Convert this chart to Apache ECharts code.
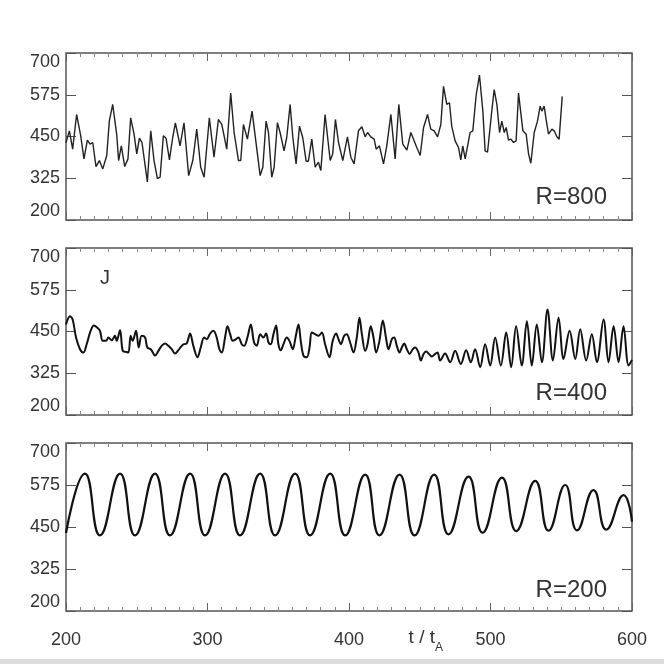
<!DOCTYPE html>
<html><head><meta charset="utf-8">
<script src="https://cdn.jsdelivr.net/npm/echarts@6/dist/echarts.min.js"></script>
<style>html,body{margin:0;padding:0;background:#fff}#c{width:664px;height:664px}</style>
</head><body><div id="c"></div>
<script>
// ---- data ----
const xTicks = [200, 300, 400, 500, 600];
const yTicks = [200, 325, 450, 575, 700];
const panelLabels = ['R=800', 'R=400', 'R=200'];

const tR800 = [200, 202.4, 204.7, 207.5, 210.4, 212.7, 215.1, 217, 218.9, 221.2, 223.6, 226, 228.8, 230.6, 233, 235.8, 237.2, 239.1, 241.5, 243.8, 245.7, 248.1, 250, 251.9, 253.7, 257.5, 259.9, 262.2, 264.6, 266.5, 268.8, 270.7, 273.1, 275.4, 277.3, 278.7, 280.6, 283.4, 286.7, 289.6, 292.4, 295.2, 297.6, 301.3, 304.6, 307.7, 310.1, 313.6, 316.4, 318.8, 321.9, 323.5, 325.4, 328.2, 331.5,
  337.2, 339.1, 341.4, 343.1, 345.4, 347.1, 349.4, 351.3, 354.1, 356, 358.4, 360.3, 362.6, 365, 367.3, 369.7, 371.3, 373.7, 376.1, 378.4, 380.1, 383.1, 386.7, 388.5, 390.4, 392.6, 395.6, 398.9, 401.3, 403.6, 406.7, 409.1, 411.4, 413.1, 415.4, 417.8, 419.2, 421.5, 424.4, 426.7, 429.6, 432.6, 435.2, 438, 440.9, 443.7, 445.6, 447.9, 450.3, 452.7, 455.5, 457.8, 460.2, 462.6, 464.9,
  466.8, 469.1, 471, 472.6, 475, 477.4, 479, 480.4, 482.1, 485.6, 487.5, 489.9, 492.2, 494.6, 496.2, 497.9, 500.9, 502.6, 504.5, 506.4, 508, 509.7, 511.1, 512.7, 514.4, 516.3, 518.1, 519.8, 521, 522.9, 525.2, 526.9, 528.5, 530.9, 533.2, 535.1, 536.3, 537.9, 539.3, 541, 543.4, 545, 546.9, 548.5, 550.7];
const vR800 = [432, 467, 412, 516, 452, 383, 439, 427, 432, 360, 378, 353, 393, 496, 546, 457, 378, 422, 360, 383, 506, 457, 398, 445, 432, 314, 467, 378, 324, 328, 452, 445, 380, 447, 491, 462, 422, 491, 333, 378, 472, 358, 328, 506, 388, 501, 486, 412, 580, 462, 378, 378, 486, 442, 526,
  333, 358, 496, 462, 328, 358, 491, 462, 407, 447, 546, 447, 368, 481, 447, 376, 376, 442, 358, 373, 348, 516, 378, 398, 501, 432, 378, 449, 388, 368, 467, 479, 449, 462, 449, 442, 412, 422, 368, 422, 516, 383, 546, 427, 409, 462, 442, 417, 393, 477, 516, 472, 467, 449, 486,
  600, 546, 551, 481, 437, 417, 380, 422, 383, 462, 467, 575, 634, 526, 407, 403, 526, 590, 546, 462, 496, 462, 477, 439, 442, 432, 437, 580, 580, 467, 457, 398, 370, 462, 496, 541, 526, 541, 501, 457, 472, 467, 449, 442, 570];

const tR400 = [200, 202.8, 204.7, 207.1, 209.9, 212.3, 214.6, 217.4, 219.8, 222.2, 224, 226, 228.3, 230, 232.3, 234.6, 235.8, 238.2, 240.1, 242.4, 244.1, 245.7, 247.1, 249.5, 251.4, 253.5, 255.9, 257.5, 259.9, 263, 265.3, 267.6, 270, 272.4, 274.7, 277.1, 279.4, 281.8, 283.4, 285.3, 287.7, 290, 292.9, 295.2, 297.6, 299.5, 301.8, 304.2, 306.5, 308.4, 310.1, 312.4, 314.1, 316, 317.8, 320.2, 321.9, 324.2, 325.9, 328.2, 330.6,
  332.9, 334.8, 337.2, 339.5, 341.4, 343.1, 344.7, 346.6, 348.5, 350.1, 351.8, 353.7, 356, 357.9, 360.3, 362.2, 364.3, 365.9, 367.8, 370.2, 372.1, 373.7, 376, 378.4, 380.8, 383.1, 386.2, 388.5, 390.9, 392.6, 394.2, 396.6, 398.4, 400.8, 403.2, 405.5, 407.4, 409.1, 411.4, 413.1, 415.4, 417.3, 419.2, 421.5, 423.9, 426.3, 427.9, 430.3, 431.9, 433.8, 435.7, 437.3, 439, 440.9, 442.8, 445.1, 446.8, 449.1, 450.8, 452.7, 454.5, 456.9, 458.5, 460.9, 462.6,
  464.4, 467.9, 471.5, 475, 479, 482.8, 486.1, 489.1, 492.7, 496.2, 499.8, 503.3, 507.3, 511.1, 514.6, 518.1, 522.1, 525.7, 529.2, 532.7, 536.3, 540.3, 544.1, 548.1, 551.6, 555.9, 559.9, 563.4, 567.6, 571.6, 575.2, 579.9, 583.4, 587, 590.5, 594, 597.6, 600];
const vR400 = [471, 496, 486, 432, 397, 387, 412, 452, 468, 461, 452, 422, 422, 432, 424, 437, 422, 454, 392, 389, 387, 437, 422, 452, 402, 437, 432, 402, 397, 378, 392, 407, 414, 407, 397, 384, 394, 407, 412, 414, 444, 407, 373, 402, 432, 427, 444, 452, 432, 397, 387, 432, 466, 442, 422, 427, 432, 412, 407, 432, 471,
  417, 407, 442, 432, 444, 417, 412, 442, 468, 412, 394, 412, 432, 422, 397, 432, 471, 422, 378, 373, 402, 447, 442, 437, 447, 412, 373, 422, 444, 427, 412, 437, 442, 417, 387, 432, 491, 442, 392, 412, 466, 432, 387, 422, 483, 427, 397, 427, 432, 407, 387, 402, 414, 397, 383, 397, 402, 387, 363, 383, 390, 381, 375, 383, 387,
  363, 384, 358, 392, 353, 394, 358, 397, 343, 412, 348, 432, 348, 447, 343, 466, 348, 481, 348, 471, 358, 516, 363, 491, 368, 452, 368, 457, 363, 442, 358, 486, 358, 466, 358, 466, 348, 365];

const tR200 = [200, 213.4, 224, 238.2, 248.8, 262.9, 273.5, 287.7, 298.3, 312.4, 323, 337.2, 347.8, 361.9, 372.5, 386.7, 397.3, 411.4, 421.5, 435.7, 446.3, 460.2, 470.3, 484.5, 494.4, 508.1, 518.2, 531.6, 541, 552.8, 561.1, 572.8, 581.8, 594.1, 600];
const vR200 = [432, 609, 425, 609, 425, 609, 425, 609, 425, 609, 425, 609, 425, 609, 425, 609, 425, 606, 425, 606, 425, 606, 428, 600, 433, 597, 438, 587, 439, 575, 440, 560, 442, 545, 466];

// ---- chart ----
const series = [[tR800, vR800], [tR400, vR400], [tR200, vR200]];
const tops = [53, 248, 443];
const heights = [167, 167, 168];
const font = 'Liberation Sans, Arial, sans-serif';

const grid = [], xAxis = [], yAxis = [], seriesList = [];
for (let i = 0; i < 3; i++) {
  grid.push({left: 66, right: 32, top: tops[i], height: heights[i], show: true,
    borderColor: '#555', borderWidth: 1.5, backgroundColor: '#fff'});
  const base = {type: 'value', gridIndex: i, min: xTicks[0], max: xTicks[xTicks.length - 1], interval: 100,
    axisLine: {show: false}, splitLine: {show: false},
    axisTick: {show: true, inside: true, length: 8, lineStyle: {color: '#666', width: 1}},
    minorTick: {show: true, splitNumber: 10, length: 4, lineStyle: {color: '#888', width: 1}}};
  xAxis.push(Object.assign({}, base, {position: 'bottom',
    axisLabel: {show: i === 2, margin: 20, fontSize: 18, color: '#333', fontFamily: font,
      customValues: xTicks}}));
  xAxis.push(Object.assign({}, base, {position: 'top', axisLabel: {show: false}}));
  const ybase = {type: 'value', gridIndex: i, min: yTicks[0], max: yTicks[yTicks.length - 1], interval: 125,
    axisLine: {show: false}, splitLine: {show: false},
    axisTick: {show: true, inside: true, length: 10, lineStyle: {color: '#555', width: 1}}};
  yAxis.push(Object.assign({}, ybase, {position: 'left',
    axisLabel: {show: true, margin: 6, fontSize: 18, color: '#333', fontFamily: font,
      verticalAlignMaxLabel: 'top', verticalAlignMinLabel: 'bottom'}}));
  yAxis.push(Object.assign({}, ybase, {position: 'right', axisLabel: {show: false}}));
  const [t, v] = series[i];
  seriesList.push({type: 'line', xAxisIndex: i * 2, yAxisIndex: i * 2, showSymbol: false,
    smooth: i === 0 ? 0 : (i === 1 ? 0.35 : 0.5), silent: true, animation: false,
    lineStyle: {color: i === 0 ? '#222' : '#111', width: i === 0 ? 1.4 : (i === 1 ? 2 : 2.2)},
    data: t.map((x, k) => [x, v[k]])});
}

const graphic = [
  {type: 'rect', left: 0, top: 659, shape: {width: 664, height: 5}, style: {fill: '#dcdcdc'}, silent: true},
  {type: 'text', x: 100, y: 278, style: {text: 'J', font: '20px ' + font, fill: '#333', align: 'left', verticalAlign: 'middle', textAlign: 'left', textVerticalAlign: 'middle'}},
  {type: 'text', x: 435, y: 638, style: {text: 't / t', font: '19px ' + font, fill: '#333', align: 'right', verticalAlign: 'middle', textAlign: 'right', textVerticalAlign: 'middle'}},
  {type: 'text', x: 435, y: 648, style: {text: 'A', font: '12px ' + font, fill: '#333', align: 'left', verticalAlign: 'middle', textAlign: 'left', textVerticalAlign: 'middle'}}
];
const labelY = [197, 393, 590];
for (let i = 0; i < 3; i++) {
  graphic.push({type: 'text', x: 607, y: labelY[i], style: {text: panelLabels[i], font: '24px ' + font, fill: '#333',
    align: 'right', verticalAlign: 'middle', textAlign: 'right', textVerticalAlign: 'middle'}});
}

const chart = echarts.init(document.getElementById('c'), null, {renderer: 'canvas'});
chart.setOption({animation: false, backgroundColor: '#fff', grid, xAxis, yAxis, series: seriesList, graphic});
</script></body></html>
